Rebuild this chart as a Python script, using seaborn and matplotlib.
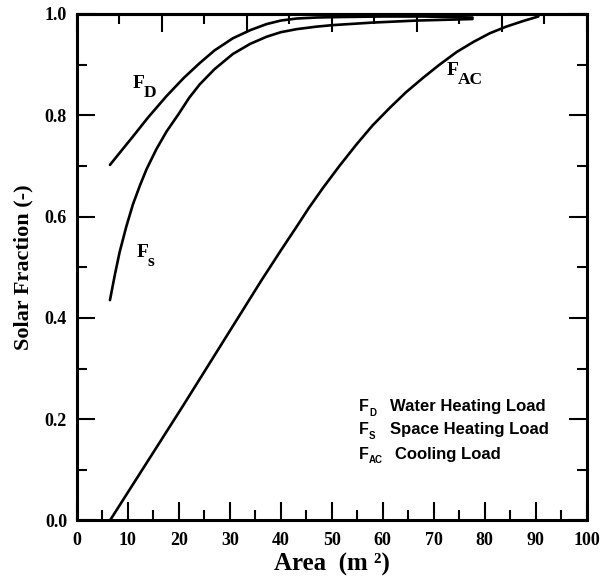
import matplotlib
matplotlib.use("Agg")
import matplotlib.pyplot as plt
import seaborn as sns
import pandas as pd
from matplotlib.ticker import MultipleLocator

# curves
area_fd = [6.5, 8.5, 11.0, 14.0, 17.6, 21.0, 24.1, 27.0, 30.6, 34.0, 37.2, 40.0,
           43.1, 47.0, 52.0, 60.0, 68.0, 77.6]
frac_fd = [0.702, 0.727, 0.758, 0.796, 0.838, 0.874, 0.903, 0.928, 0.952, 0.968,
           0.980, 0.987, 0.991, 0.993, 0.994, 0.995, 0.995, 0.993]

area_fs = [6.5, 7.5, 8.4, 9.7, 11.0, 12.4, 13.7, 15.6, 17.6, 20.0, 22.0, 24.1,
           27.0, 30.6, 34.0, 37.2, 40.0, 43.1, 47.0, 50.2, 58.0, 66.7, 77.6]
frac_fs = [0.435, 0.487, 0.530, 0.580, 0.624, 0.662, 0.694, 0.733, 0.768, 0.803,
           0.834, 0.861, 0.891, 0.921, 0.941, 0.955, 0.964, 0.970, 0.975, 0.978,
           0.983, 0.987, 0.990]

area_fac = [6.5, 20.8, 36.2, 40.0, 43.1, 45.5, 48.3, 51.5, 54.8, 58.0, 61.4, 64.5,
            67.9, 71.0, 74.5, 77.8, 81.0, 84.2, 87.5, 90.5]
frac_fac = [0.0, 0.226, 0.474, 0.533, 0.580, 0.617, 0.657, 0.700, 0.742, 0.780,
            0.815, 0.845, 0.874, 0.899, 0.925, 0.945, 0.962, 0.975, 0.986, 0.995]

# curve labels: subscript and position of the F
curve_subs = ["D", "s", "AC"]
curve_lab_x = [10.9, 11.7, 72.5]
curve_lab_y = [0.853, 0.520, 0.879]

legend_keys = ["D", "S", "AC"]
legend_names = ["Water Heating Load", "Space Heating Load", "Cooling Load"]
legend_y = [0.216, 0.170, 0.122]

df = pd.concat([
    pd.DataFrame({"area": area_fd, "frac": frac_fd, "curve": "FD"}),
    pd.DataFrame({"area": area_fs, "frac": frac_fs, "curve": "FS"}),
    pd.DataFrame({"area": area_fac, "frac": frac_fac, "curve": "FAC"}),
], ignore_index=True)

sns.set_style("ticks", {"axes.edgecolor": "black", "text.color": "black",
                        "axes.labelcolor": "black", "xtick.color": "black",
                        "ytick.color": "black"})
serif = "Liberation Serif"
sans = "Liberation Sans"

fig = plt.figure(figsize=(6.0, 5.82), dpi=100)
ax = fig.add_axes([0.128, 0.1057, 0.85, 0.8703])

sns.lineplot(data=df, x="area", y="frac", hue="curve", units="curve",
             estimator=None, sort=False, palette=["black"] * 3,
             linewidth=1.9, legend=False, ax=ax)

ax.set_xlim(0, 100)
ax.set_ylim(0, 1.0)
ax.xaxis.set_major_locator(MultipleLocator(10))
ax.xaxis.set_minor_locator(MultipleLocator(5))
ax.yaxis.set_major_locator(MultipleLocator(0.2))
ax.yaxis.set_minor_locator(MultipleLocator(0.1))
ax.tick_params(which="major", direction="in", length=13, width=1.5, colors="black",
               left=True, right=True, bottom=True, top=False)
ax.tick_params(which="minor", direction="in", length=7, width=1.5, colors="black",
               left=True, right=True, bottom=True, top=False)
ax.tick_params(axis="x", which="major", pad=8)
ax.tick_params(axis="y", which="major", pad=7)
for sp in ax.spines.values():
    sp.set_linewidth(2.2)
    sp.set_color("black")
    sp.set_visible(True)

# top axis has its own spacing (6 divisions), no labels
top = ax.secondary_xaxis("top", functions=(lambda v: v * 6 / 100, lambda v: v * 100 / 6))
top.xaxis.set_major_locator(MultipleLocator(1))
top.xaxis.set_minor_locator(MultipleLocator(0.5))
top.tick_params(which="major", direction="in", length=13, width=1.5,
                colors="black", labeltop=False)
top.tick_params(which="minor", direction="in", length=7, width=1.5, colors="black")
top.spines["top"].set_linewidth(2.2)
top.spines["top"].set_color("black")

ax.set_xticklabels([f"{int(v)}" for v in ax.get_xticks()],
                   fontfamily=serif, fontweight="bold", fontsize=13)
ax.set_yticklabels([f"{v:.1f}" for v in ax.get_yticks()],
                   fontfamily=serif, fontweight="bold", fontsize=13)

ax.set_xlabel("Area  (m \u00b2)", fontfamily=serif,
              fontweight="bold", fontsize=18, labelpad=3)
ax.set_ylabel("Solar Fraction (-)", fontfamily=serif, fontweight="bold",
              fontsize=16, labelpad=8)

# curve labels
for sub, x, y in zip(curve_subs, curve_lab_x, curve_lab_y):
    ax.text(x, y, "F", fontfamily=serif, fontweight="bold", fontsize=14,
            va="baseline", ha="left")
    ax.annotate(sub, (x, y), xytext=(7.8, -6.5), textcoords="offset points",
                fontfamily=serif, fontweight="bold", fontsize=12.5,
                va="baseline", ha="left")

# key text
for k, name, y in zip(legend_keys, legend_names, legend_y):
    ax.text(55.3, y, "F", fontfamily=sans, fontweight="bold", fontsize=11.5,
            va="baseline", ha="left")
    ax.annotate(k, (55.3, y), xytext=(7.4, -3.4), textcoords="offset points",
                fontfamily=sans, fontweight="bold", fontsize=7,
                va="baseline", ha="left")
    ax.text(61.5 if k != "AC" else 62.3, y, name, fontfamily=sans,
            fontweight="bold", fontsize=12, va="baseline", ha="left")

fig.savefig("out.png", dpi=100)
